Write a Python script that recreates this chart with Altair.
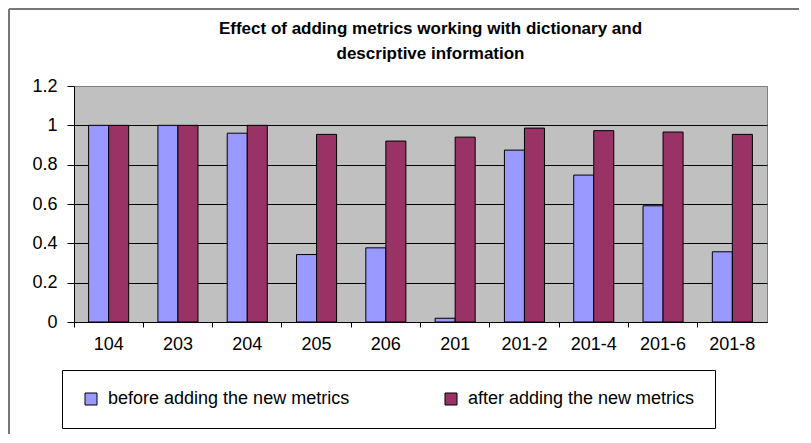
import altair as alt
import pandas as pd

categories = ["104", "203", "204", "205", "206", "201", "201-2", "201-4", "201-6", "201-8"]
series_names = ["before adding the new metrics", "after adding the new metrics"]
before_vals = [1.0, 1.0, 0.96, 0.343, 0.377, 0.019, 0.874, 0.747, 0.591, 0.357]
after_vals = [1.0, 1.0, 1.0, 0.954, 0.92, 0.94, 0.986, 0.973, 0.966, 0.954]
y_ticks = [0, 0.2, 0.4, 0.6, 0.8, 1.0, 1.2]
colors = ["#9999FF", "#993366"]
title_lines = ["Effect of adding metrics working with dictionary and", "descriptive information"]

rows = []
for c, b, a in zip(categories, before_vals, after_vals):
    rows.append({"cat": c, "series": series_names[0], "value": b})
    rows.append({"cat": c, "series": series_names[1], "value": a})
df = pd.DataFrame(rows)

FONT = "Liberation Sans"

bars = alt.Chart(df).mark_bar(stroke="black", strokeWidth=1, opacity=1).encode(
    x=alt.X("cat:N", sort=categories,
            scale=alt.Scale(paddingInner=0, paddingOuter=0),
            axis=alt.Axis(title=None, labelAngle=0, bandPosition=0, tickSize=5,
                          tickColor="black", domainColor="black", labelFontSize=18,
                          labelFont=FONT, labelColor="black", labelPadding=8, grid=False)),
    xOffset=alt.XOffset("series:N", sort=series_names,
                        scale=alt.Scale(paddingInner=0, paddingOuter=0.73)),
    y=alt.Y("value:Q", scale=alt.Scale(domain=[0, 1.2], nice=False),
            axis=alt.Axis(title=None, values=y_ticks, format="~g", tickSize=7,
                          tickColor="black", domainColor="black", labelFontSize=18,
                          labelFont=FONT, labelColor="black", labelPadding=10,
                          grid=True, gridColor={"condition": {"test": "datum.value >= 1.19", "value": "#808080"}, "value": "black"},
                          gridWidth=1)),
    color=alt.Color("series:N", sort=series_names,
                    scale=alt.Scale(domain=series_names, range=colors),
                    legend=alt.Legend(title=None, orient="none", legendX=-12, legendY=284,
                                      direction="horizontal", columnPadding=92,
                                      labelFontSize=18, labelFont=FONT, labelColor="black",
                                      labelLimit=500,
                                      labelOffset=8, symbolType="square", symbolSize=144,
                                      symbolStrokeColor="black", symbolStrokeWidth=1,
                                      strokeColor="black", padding=20, symbolOpacity=1)),
)

one = pd.DataFrame({"k": [0]})
top_border = alt.Chart(one).mark_rule(color="#777777", strokeWidth=2).encode(
    x=alt.value(-65), x2=alt.value(725), y=alt.value(-77))
left_border = alt.Chart(one).mark_rule(color="#777777", strokeWidth=2).encode(
    x=alt.value(-65), y=alt.value(-77), y2=alt.value(348))

chart = alt.layer(bars, top_border, left_border).properties(
    width=693, height=236,
    background="white",
    padding={"left": 0, "top": 0, "right": 0, "bottom": 0},
    title=alt.Title(text=title_lines, fontSize=17, fontWeight="bold", font=FONT,
                    anchor="middle", frame="group", offset=-55, lineHeight=25, dx=10,
                    color="black"),
).configure_view(fill="#C0C0C0", stroke="#808080", strokeWidth=1)

chart.save("out.html", embed_options={"renderer": "svg", "actions": False})
